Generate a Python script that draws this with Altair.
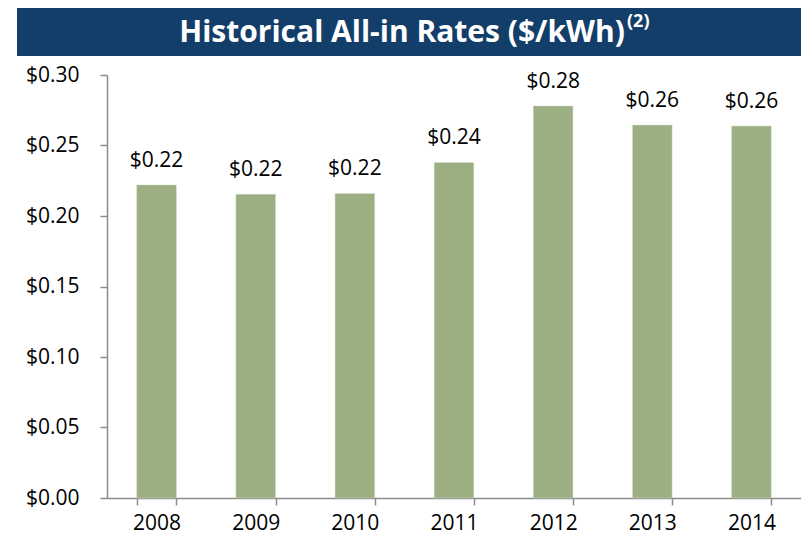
import altair as alt
import pandas as pd

years = ["2008", "2009", "2010", "2011", "2012", "2013", "2014"]
rates = [0.222, 0.2155, 0.216, 0.238, 0.278, 0.2645, 0.2638]
bar_labels = ["$0.22", "$0.22", "$0.22", "$0.24", "$0.28", "$0.26", "$0.26"]
y_ticks = [0.0, 0.05, 0.10, 0.15, 0.20, 0.25, 0.30]
title_main = "Historical All-in Rates ($/kWh)"
title_sup = "(2)"

df = pd.DataFrame({"year": years, "rate": rates, "label": bar_labels})

FONT = "Open Sans"
AXIS_GRAY = "#8c8c8c"
FS = 21

base = alt.Chart(df)

x_enc = alt.X(
    "year:N",
    sort=years,
    scale=alt.Scale(paddingInner=0.6, paddingOuter=0.3),
    axis=alt.Axis(
        title=None,
        labelAngle=0,
        labelFont=FONT,
        labelFontSize=FS,
        labelColor="#000000",
        labelPadding=7,
        tickBand="extent",
        tickSize=7,
        tickColor=AXIS_GRAY,
        tickWidth=1.5,
        domainColor=AXIS_GRAY,
        domainWidth=1.5,
        grid=False,
    ),
)
y_enc = alt.Y(
    "rate:Q",
    scale=alt.Scale(domain=[0, 0.30], nice=False),
    axis=alt.Axis(
        title=None,
        values=y_ticks,
        format="$.2f",
        labelFont=FONT,
        labelFontSize=FS,
        labelColor="#000000",
        labelPadding=21,
        tickSize=7,
        tickColor=AXIS_GRAY,
        tickWidth=1.5,
        domainColor=AXIS_GRAY,
        domainWidth=1.5,
        grid=False,
    ),
)

bars = base.mark_bar(color="#9BAF82", stroke="#D6E0CB", strokeWidth=0.5).encode(x=x_enc, y=y_enc)

labels = base.mark_text(
    font=FONT, fontSize=FS, color="#000000", baseline="alphabetic", dy=-18
).encode(x=alt.X("year:N", sort=years), y=alt.Y("rate:Q"), text="label:N")

tdf = pd.DataFrame({"main": [title_main], "sup": [title_sup]})
banner = alt.Chart(tdf).mark_rect(color="#133E6A").encode(
    x=alt.value(-90), x2=alt.value(694), y=alt.value(-67), y2=alt.value(-19)
)
title_text = alt.Chart(tdf).mark_text(
    font=FONT, fontWeight="bold", fontSize=30, color="#ffffff",
    align="right", baseline="middle"
).encode(x=alt.value(518), y=alt.value(-42), text="main:N")
sup_text = alt.Chart(tdf).mark_text(
    font=FONT, fontWeight="bold", fontSize=18, color="#ffffff",
    align="left", baseline="middle"
).encode(x=alt.value(520), y=alt.value(-53), text="sup:N")

chart = alt.layer(bars, labels, banner, title_text, sup_text).properties(
    width=694,
    height=423,
    autosize=alt.AutoSizeParams(type="none"),
    padding={"left": 99, "top": 67, "right": 0, "bottom": 36},
).configure_view(stroke=None)

chart.save("out.html", embed_options={"renderer": "svg", "actions": False})
